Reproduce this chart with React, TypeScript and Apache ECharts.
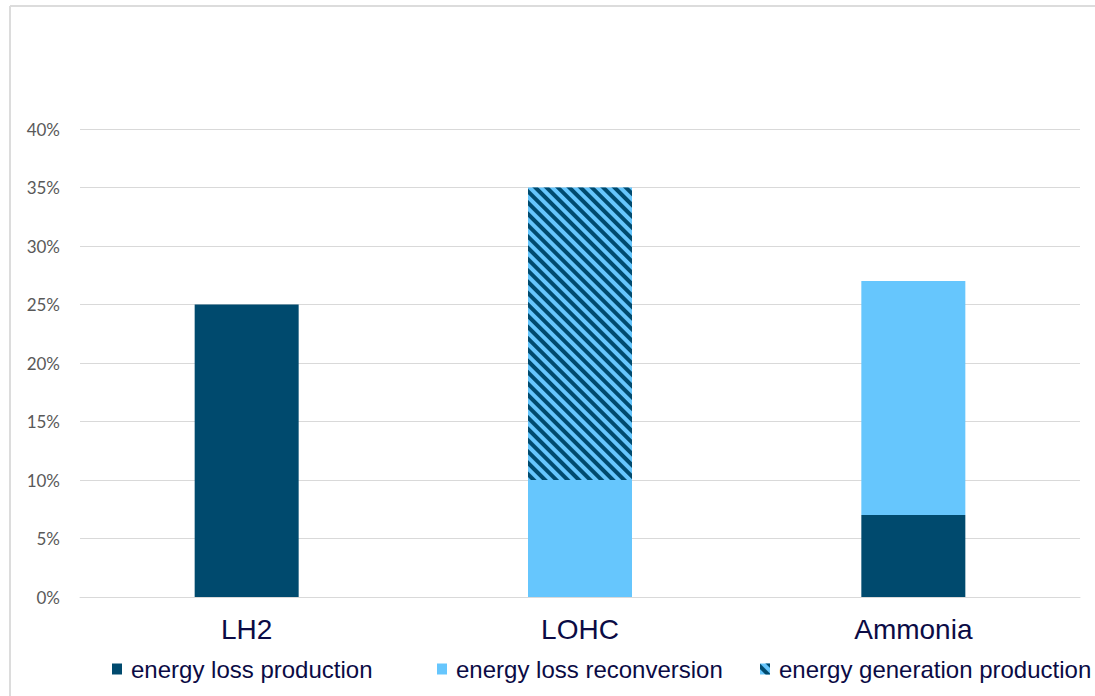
import React, { useEffect, useRef } from "react";
import * as echarts from "echarts";

const categories = ["LH2", "LOHC", "Ammonia"];
const lossProduction = [25, 0, 7];
const lossReconversion = [0, 10, 20];
const generationProduction = [0, 25, 0];
const seriesNames = ["energy loss production", "energy loss reconversion", "energy generation production"];

const DARK = "#004A6E";
const LIGHT = "#66C6FD";
const TEXT = "#0B0B45";

export default function App() {
  const ref = useRef<HTMLDivElement>(null);
  useEffect(() => {
    if (!ref.current) return;
    const chart = echarts.init(ref.current, null, { renderer: "svg" });
    const legendBase = {
      top: 652,
      itemWidth: 10,
      itemHeight: 11,
      itemGap: 0,
      icon: "rect",
      selectedMode: false,
      textStyle: { fontFamily: "Liberation Sans, Arial", fontSize: 24, color: TEXT, padding: [0, 0, 0, 4] },
    };
    chart.setOption({
      animation: false,
      backgroundColor: "#ffffff",
      grid: { left: 80, right: 15, top: 129, bottom: 99 },
      legend: [
        { ...legendBase, left: 107, data: [seriesNames[0]] },
        { ...legendBase, left: 432, data: [seriesNames[1]] },
        { ...legendBase, left: 755, data: [seriesNames[2]] },
      ],
      xAxis: {
        type: "category",
        data: categories,
        axisLine: { lineStyle: { color: "#d9d9d9", width: 1 } },
        axisTick: { show: false },
        axisLabel: { fontFamily: "Liberation Sans, Arial", fontSize: 28, color: TEXT, margin: 18 },
      },
      yAxis: {
        type: "value",
        min: 0,
        max: 40,
        interval: 5,
        axisLine: { show: false },
        axisTick: { show: false },
        splitLine: { lineStyle: { color: "#d9d9d9", width: 1 } },
        axisLabel: { formatter: "{value}%", fontFamily: "Lato", fontSize: 17, color: "#595959", margin: 20 },
      },
      graphic: [
        { type: "line", shape: { x1: 10, y1: 6, x2: 1095, y2: 6 }, style: { stroke: "#dcdcdc", lineWidth: 2 } },
        { type: "line", shape: { x1: 10, y1: 6, x2: 10, y2: 696 }, style: { stroke: "#dcdcdc", lineWidth: 2 } },
      ],
      series: [
        {
          name: seriesNames[0],
          type: "bar",
          stack: "total",
          barWidth: 104,
          data: lossProduction,
          itemStyle: { color: DARK },
        },
        {
          name: seriesNames[1],
          type: "bar",
          stack: "total",
          barWidth: 104,
          data: lossReconversion,
          itemStyle: { color: LIGHT },
        },
        {
          name: seriesNames[2],
          type: "bar",
          stack: "total",
          barWidth: 104,
          data: generationProduction,
          itemStyle: {
            color: LIGHT,
            decal: {
              symbol: "rect",
              symbolSize: 1,
              color: DARK,
              dashArrayX: [1, 0],
              dashArrayY: [3.5, 3.5],
              rotation: Math.PI / 4,
            },
          },
        },
      ],
    });
    return () => chart.dispose();
  }, []);
  return <div ref={ref} style={{ position: "absolute", left: 0, top: 0, width: 1095, height: 696 }} />;
}
